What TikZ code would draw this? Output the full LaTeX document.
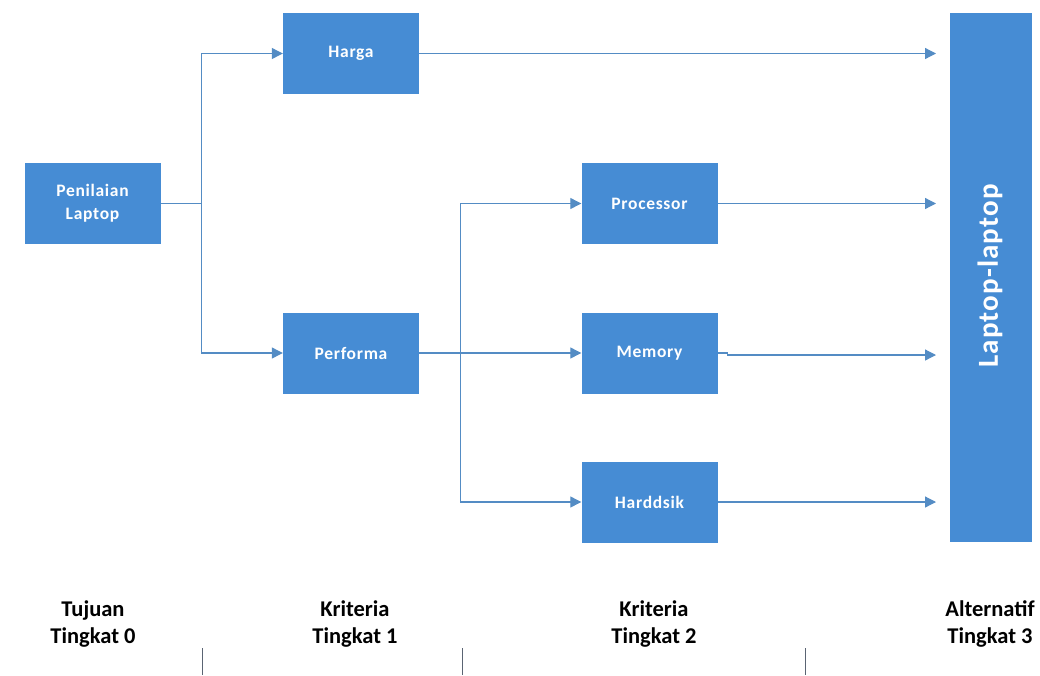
\documentclass[tikz,border=0pt]{standalone}
\usepackage{fontspec}
\setmainfont{Carlito}
\usetikzlibrary{arrows.meta,calc}
\definecolor{boxblue}{RGB}{70,140,212}
\definecolor{lineblue}{RGB}{84,140,196}
\definecolor{tickgray}{RGB}{90,100,115}
\tikzset{
  crit/.style={draw=none, fill=boxblue, minimum width=136pt, minimum height=81pt, inner sep=0pt,
    text=white, font=\fontsize{17.5}{23}\selectfont\bfseries\addfontfeature{LetterSpace=4}, align=center},
  conn/.style={draw=lineblue, line width=1.2pt},
  arr/.style={conn, -{Triangle[length=11pt,width=11pt]}},
  lvl/.style={font=\fontsize{22.5}{27}\selectfont\bfseries, align=center, inner sep=0pt, text=black},
  tick/.style={draw=tickgray, line width=0.8pt}
}
\begin{document}
\begin{tikzpicture}[x=1pt,y=-1pt]
\useasboundingbox (0,0) rectangle (1040,675);
% boxes
\node[crit] (pen) at (92.5,203.5) {Penilaian\\Laptop};
\node[crit] (harga) at (351,53.5) {Harga};
\node[crit] (perf) at (351,353) {Performa};
\node[crit] (proc) at (649.5,203.5) {Processor};
\node[crit] (mem) at (649.5,353) {Memory};
\node[crit] (hdd) at (649.5,502) {Harddsik};
\node[draw=none, fill=boxblue, minimum width=82pt, minimum height=529pt, inner sep=0pt] (lap) at (991,277.5) {};
\node[rotate=90, text=white, font=\fontsize{29}{34}\selectfont\bfseries\addfontfeature{LetterSpace=4}] (laptxt) at (990,276) {Laptop-laptop};
% junction coordinates
\coordinate (j1) at (201.5,203.5);
\coordinate (j2) at (460.5,353);
\coordinate (tipx) at (936,0);
% connectors level 0 -> 1
\draw[conn] (pen.east) -- (j1);
\draw[arr] (j1) |- (harga.west);
\draw[arr] (j1) |- (perf.west);
% level 1 -> 2
\draw[arr] (perf.east) -- (mem.west);
\draw[arr] (j2) |- (proc.west);
\draw[arr] (j2) |- (hdd.west);
% to alternatives
\draw[arr] (harga.east) -- (harga.east -| tipx);
\draw[arr] (proc.east) -- (proc.east -| tipx);
\draw[arr] (mem.east) -- ++(10,0) -- ++(0,2) -- ($(mem.east -| tipx)+(0,2)$);
\draw[arr] (hdd.east) -- (hdd.east -| tipx);
% level labels
\node[lvl] (l0) at (93,624) {Tujuan\\Tingkat 0};
\node[lvl] (l1) at (355,624) {Kriteria\\Tingkat 1};
\node[lvl] (l2) at (654,624) {Kriteria\\Tingkat 2};
\node[lvl] (l3) at (990,624) {Alternatif\\Tingkat 3};
% separator ticks
\coordinate (s1a) at (202,648); \coordinate (s1b) at (202,675);
\coordinate (s2a) at (462.5,648); \coordinate (s2b) at (462.5,675);
\coordinate (s3a) at (805,648); \coordinate (s3b) at (805,675);
\draw[tick] (s1a) -- (s1b);
\draw[tick] (s2a) -- (s2b);
\draw[tick] (s3a) -- (s3b);
\end{tikzpicture}
\end{document}
